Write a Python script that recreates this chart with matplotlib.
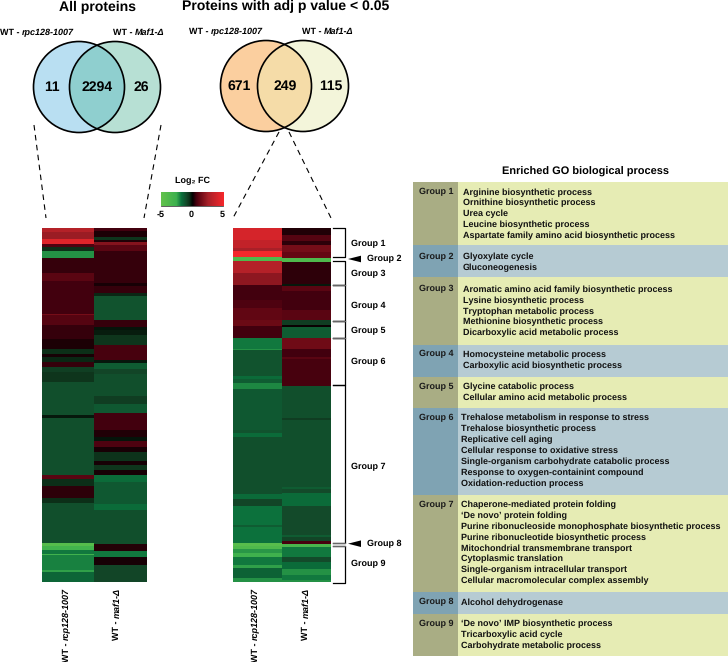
import numpy as np
import matplotlib
matplotlib.use("Agg")
import matplotlib.pyplot as plt
from matplotlib.colors import LinearSegmentedColormap
from matplotlib.patches import Circle, Rectangle, Polygon

plt.rcParams["font.family"] = ["Liberation Sans", "DejaVu Sans"]
plt.rcParams["font.weight"] = "bold"
plt.rcParams["text.hinting"] = "none"
plt.rcParams["text.hinting_factor"] = 1

W, H = 728, 662

# venn counts
venn_all = ["11", "2294", "26"]
venn_sig = ["671", "249", "115"]

# heatmaps: band rows and log2 FC for each column
all_left_rows = [4, 7, 5, 3, 4, 7, 15, 8, 33, 1, 10, 14, 10, 5, 3, 5, 5, 5, 10, 33, 3, 12,
                 45, 4, 7, 12, 5, 40, 3, 4, 4, 1, 15, 2, 10]
all_left_fc = [3.0, 2.3, 4.3, 0.8, -0.5, -2.2, 0.5, 1.0, 0.6, 1.5, 0.9, 0.5, 0.25, -0.5, 0.2, -0.4, 0.5, -0.8, -0.6, -1.1, -0.25, -1.1,
               -1.1, 1.0, -0.5, 0.4, -0.5, -1.1, -4.25, -3.0, -1.9, -2.9, -2.0, -2.4, -1.6]
all_right_rows = [3, 6, 3, 2, 3, 6, 32, 3, 7, 3, 24, 7, 3, 5, 10, 15, 3, 6, 5, 22, 8, 9, 17,
                  7, 4, 6, 5, 9, 4, 5, 5, 7, 22, 6, 34, 7, 6, 8, 17]
all_right_fc = [0.6, 0.25, -0.6, 0.3, 1.8, 1.0, 0.5, 0.2, 0.5, -0.4, -1.2, 0.5, -0.2, -0.3, -0.6, 0.7, -0.25, -1.4, -0.9, -1.1, -0.75, -1.3, 0.6,
                0.3, -0.2, 0.8, 0.2, -0.55, 0.2, -0.6, 0.2, -1.7, -1.3, -1.7, -1.1, 0.35, -1.9, 0.2, -0.9]

sig_left_rows = [12, 8, 3, 6, 4, 12, 12, 15, 8, 12, 6, 12, 11, 1, 26, 3, 4, 6, 41,
                 3, 4, 57, 5, 7, 19, 2, 16, 3, 3, 4, 4, 8, 3, 10, 4]
sig_left_fc = [4.0, 3.4, 2.6, 5.0, -3.8, 3.0, 2.0, 0.6, 0.8, 1.1, 1.3, 0.6, -1.9, -2.2, -1.2, -1.7, -1.4, -2.1, -1.3,
               -1.2, -1.7, -1.1, -1.7, -0.9, -1.8, -1.4, -1.8, -4.4, -3.8, -2.3, -2.8, -1.9, -2.4, -1.5, -2.2]
sig_right_rows = [7, 6, 4, 7, 6, 4, 22, 2, 5, 19, 10, 5, 2, 11, 11, 8, 2, 27, 32, 2, 10,
                  57, 2, 4, 13, 29, 2, 4, 3, 3, 10, 5, 7, 6, 5, 2]
sig_right_fc = [0.3, 0.9, 0.4, 1.5, 1.2, -3.8, 0.4, -0.25, 1.0, 0.6, 1.0, -0.75, 0.1, -1.4, 1.4, 0.6, 1.0, 0.7, -1.1, -0.75, -1.1,
                -1.1, -1.4, -1.0, -1.7, -1.0, -1.4, -0.9, 0.7, -3.5, -1.9, -1.0, -1.7, -2.2, -1.9, -2.2]

# go table
groups = ["Group 1", "Group 2", "Group 3", "Group 4", "Group 5", "Group 6", "Group 7", "Group 8", "Group 9"]
go_terms = [
    ["Arginine biosynthetic process", "Ornithine biosynthetic process", "Urea cycle",
     "Leucine biosynthetic process", "Aspartate family amino acid biosynthetic process"],
    ["Glyoxylate cycle", "Gluconeogenesis"],
    ["Aromatic amino acid family biosynthetic process", "Lysine biosynthetic process",
     "Tryptophan metabolic process", "Methionine biosynthetic process", "Dicarboxylic acid metabolic process"],
    ["Homocysteine metabolic process", "Carboxylic acid biosynthetic process"],
    ["Glycine catabolic process", "Cellular amino acid metabolic process"],
    ["Trehalose metabolism in response to stress", "Trehalose biosynthetic process", "Replicative cell aging",
     "Cellular response to oxidative stress", "Single-organism carbohydrate catabolic process",
     "Response to oxygen-containint compound", "Oxidation-reduction process"],
    ["Chaperone-mediated protein folding", "\u2018De novo\u2019 protein folding",
     "Purine ribonucleoside monophosphate biosynthetic process", "Purine ribonucleotide biosynthetic process",
     "Mitochondrial transmembrane transport", "Cytoplasmic translation",
     "Single-organism intracellular transport", "Cellular macromolecular complex assembly"],
    ["Alcohol dehydrogenase"],
    ["\u2018De novo\u2019 IMP biosynthetic process", "Tricarboxylic acid cycle", "Carbohydrate metabolic process"],
]

fc_cmap = LinearSegmentedColormap.from_list("fc", [
    (0.0, "#62c24c"), (0.24, "#3cb04e"), (0.32, "#0b703c"), (0.40, "#134a2a"),
    (0.45, "#0d3019"), (0.5, "#000000"), (0.56, "#42000e"), (0.62, "#660814"),
    (0.75, "#a52028"), (1.0, "#f4282c"),
])

fig = plt.figure(figsize=(W / 100, H / 100), dpi=100)
ax = fig.add_axes([0, 0, 1, 1])
ax.set_xlim(0, W)
ax.set_ylim(H, 0)
ax.axis("off")


def inset(x0, y0, x1, y1):
    a = fig.add_axes([x0 / W, 1 - y1 / H, (x1 - x0) / W, (y1 - y0) / H])
    a.axis("off")
    return a


def mixed_text(x, y, parts, size=6.4, rotated=False):
    # regular + italic pieces one after the other
    rend = fig.canvas.get_renderer()
    items = []
    for s, style in parts:
        t = ax.text(0, 0, s, fontsize=size, style=style, rotation=90 if rotated else 0)
        box = t.get_window_extent(rend)
        items.append((t, box.height if rotated else box.width))
    gap = 2.6
    total = sum(i[1] for i in items) + gap * (len(items) - 1)
    pos = y + total if rotated else x
    for t, d in items:
        if rotated:
            t.set_position((x, pos))
            t.set_ha("center")
            t.set_va("bottom")
            pos -= d + gap
        else:
            t.set_position((pos, y))
            t.set_ha("left")
            t.set_va("center")
            pos += d + gap


def venn(cx1, cx2, cy, r, c1, c2, c12, counts, xs):
    ax.add_patch(Circle((cx1, cy), r, fc=c1, ec="none"))
    ax.add_patch(Circle((cx2, cy), r, fc=c2, ec="none"))
    over = Circle((cx2, cy), r, fc=c12, ec="none")
    ax.add_patch(over)
    over.set_clip_path(Circle((cx1, cy), r, transform=ax.transData))
    ax.add_patch(Circle((cx1, cy), r, fc="none", ec="black", lw=1.2))
    ax.add_patch(Circle((cx2, cy), r, fc="none", ec="black", lw=1.2))
    for s, x in zip(counts, xs):
        ax.text(x, cy, s, fontsize=10, ha="center", va="center")


def heat(x0, x1, rows_l, fc_l, rows_r, fc_r):
    m = np.column_stack([np.repeat(fc_l, rows_l), np.repeat(fc_r, rows_r)])
    a = inset(x0, 228, x1, 582)
    a.imshow(m, cmap=fc_cmap, vmin=-5, vmax=5, aspect="auto", interpolation="nearest")


# titles
ax.text(97.5, 7.5, "All proteins", fontsize=9.8, ha="center", va="center")
ax.text(285.5, 6, "Proteins with adj p value < 0.05", fontsize=10, ha="center", va="center")

# venns
venn(79, 115, 87, 45.5, "#b9dff2", "#b7e0d4", "#8fcfcf", venn_all, [52, 96.7, 141])
venn(266, 303, 86, 45.5, "#fbcf9f", "#f3f5da", "#f5dca8", venn_sig, [239, 285, 331])
mixed_text(0, 32.5, [("WT -", "normal"), ("rpc128-1007", "italic")])
mixed_text(113, 32.5, [("WT -", "normal"), ("Maf1-\u0394", "italic")])
mixed_text(189, 32, [("WT -", "normal"), ("rpc128-1007", "italic")])
mixed_text(302, 32, [("WT -", "normal"), ("Maf1-\u0394", "italic")])

# zoom lines
ax.plot([34, 46], [125, 218], color="black", lw=0.8, ls=(0, (5, 4)))
ax.plot([161, 144], [125, 218], color="black", lw=0.8, ls=(0, (5, 4)))
ax.plot([279, 233], [132, 218], color="black", lw=0.8, ls=(0, (5, 4)))
ax.plot([289, 331], [132, 218], color="black", lw=0.8, ls=(0, (5, 4)))

# colour key
key = inset(161, 192, 223, 206)
key.imshow(np.linspace(-5, 5, 64)[None, :], cmap=fc_cmap, vmin=-5, vmax=5, aspect="auto")
ax.add_patch(Rectangle((161, 192), 62, 14, fc="none", ec="#444444", lw=0.6))
ax.text(192.5, 181, "Log\u2082 FC", fontsize=6.6, ha="center", va="center")
for s, x in zip(["-5", "0", "5"], [161, 191.5, 222]):
    ax.text(x, 214.5, s, fontsize=6.8, ha="center", va="center")

# heatmaps
heat(42, 147, all_left_rows, all_left_fc, all_right_rows, all_right_fc)
heat(233, 331, sig_left_rows, sig_left_fc, sig_right_rows, sig_right_fc)

mixed_text(67, 588, [("WT -", "normal"), ("rcp128-1007", "italic")], size=6.2, rotated=True)
mixed_text(117, 588, [("WT -", "normal"), ("maf1-\u0394", "italic")], size=6.2, rotated=True)
mixed_text(256, 588, [("WT -", "normal"), ("rcp128-1007", "italic")], size=6.2, rotated=True)
mixed_text(306, 588, [("WT -", "normal"), ("maf1-\u0394", "italic")], size=6.2, rotated=True)

# brackets on the right heatmap
bracket_x0, bracket_x1 = 333, 344.5
for top, bot in [(228, 257), (261, 285), (285, 321), (321, 338), (338, 385), (385, 542.5), (546, 582.5)]:
    ax.plot([bracket_x0, bracket_x1, bracket_x1, bracket_x0], [top, top, bot, bot], color="black", lw=0.9)
for y in [285, 321, 338, 542.5, 546]:
    ax.plot([bracket_x0, bracket_x1], [y, y], color="#666666", lw=0.9)
for y in [259, 543.7]:
    ax.add_patch(Polygon([[348, y], [361, y - 3.3], [361, y + 3.3]], fc="black", ec="none"))

label_pos = [(350.7, 244), (367, 259), (350.7, 274), (350.7, 306), (350.7, 331),
             (350.7, 362), (350.7, 466.7), (367, 543.7), (350.7, 564)]
for s, (x, y) in zip(groups, label_pos):
    ax.text(x, y, s, fontsize=6.7, ha="left", va="center")

# go table
ax.text(586, 172, "Enriched GO biological process", fontsize=7.8, ha="center", va="center")
row_edges = [182, 245, 277, 345, 377, 408, 495, 592, 614, 656]
first_line = [192.3, 257.3, 289.7, 354.7, 387, 418.3, 505, 602.3, 624]
for i, name in enumerate(groups):
    y0, y1 = row_edges[i], row_edges[i + 1]
    blue = i % 2 == 1
    ax.add_patch(Rectangle((413, y0), 45, y1 - y0, fc="#7fa3b3" if blue else "#a9ad84", ec="none"))
    ax.add_patch(Rectangle((458, y0), W - 458, y1 - y0, fc="#b6cbd3" if blue else "#e6ecb4", ec="none"))
    ax.text(418.7, first_line[i] - 0.5, name, fontsize=6.7, ha="left", va="center", color="#1a1a1a")
    tx = 462.7 if i < 5 else 461.3
    for j, term in enumerate(go_terms[i]):
        ax.text(tx, first_line[i] + j * 10.85, term, fontsize=6.7, ha="left", va="center", color="#111111")

fig.savefig("out.png", dpi=100)
